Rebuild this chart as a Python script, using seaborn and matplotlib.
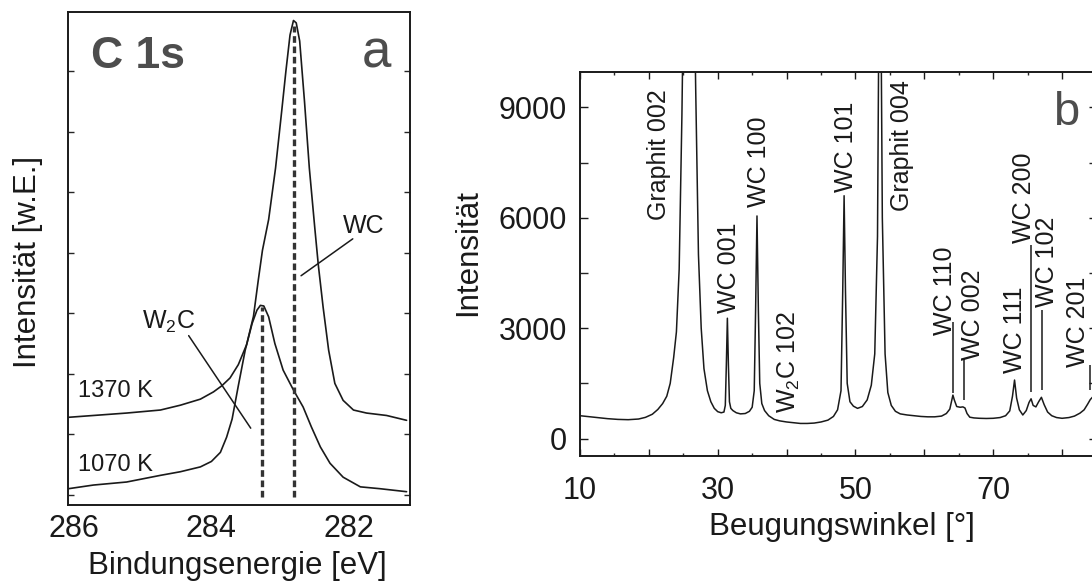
import numpy as np
import pandas as pd
import matplotlib
matplotlib.use("Agg")
import matplotlib.pyplot as plt
from matplotlib.ticker import FixedLocator, FixedFormatter
import seaborn as sns

# ---------------- data: panel a (XPS C 1s) ----------------
e_1370 = [286.07, 285.71, 285.23, 284.74, 284.45, 284.16, 283.97, 283.85, 283.73, 283.61,
          283.49, 283.39, 283.32, 283.26, 283.17, 283.07, 282.98, 282.92, 282.86, 282.81,
          282.77, 282.72, 282.65, 282.58, 282.50, 282.45, 282.38, 282.30, 282.21, 282.09,
          281.94, 281.75, 281.46, 281.17]
i_1370 = [1.28, 1.31, 1.35, 1.40, 1.48, 1.58, 1.70, 1.80, 1.93, 2.15,
          2.48, 2.95, 3.55, 4.04, 4.55, 5.40, 6.35, 7.00, 7.60, 7.84,
          7.80, 7.50, 6.50, 5.40, 4.40, 3.80, 3.10, 2.39, 1.84, 1.56,
          1.40, 1.35, 1.31, 1.23]
e_1070 = [286.07, 285.71, 285.23, 284.74, 284.45, 284.16, 284.00, 283.87, 283.78, 283.70,
          283.61, 283.51, 283.41, 283.34, 283.29, 283.24, 283.17, 283.08, 282.96, 282.81,
          282.67, 282.55, 282.42, 282.28, 282.09, 281.84, 281.56, 281.17]
i_1070 = [0.10, 0.16, 0.21, 0.32, 0.38, 0.46, 0.55, 0.70, 0.95, 1.25,
          1.80, 2.39, 2.83, 3.05, 3.13, 3.12, 2.94, 2.50, 2.06, 1.73,
          1.45, 1.12, 0.79, 0.52, 0.29, 0.13, 0.10, 0.05]
peak_names_a = ["W$_\\mathregular{2}$C", "WC"]
peak_pos_a = [283.27, 282.80]
peak_top_a = [3.10, 7.75]
peak_base_a = -0.03
# leader lines (label end -> peak end)
lead_a_x0 = [284.33, 281.95]
lead_a_y0 = [2.63, 4.23]
lead_a_x1 = [283.43, 282.70]
lead_a_y1 = [1.10, 3.62]
lab_a_x = [285.01, 282.10]
lab_a_y = [2.75, 4.32]
temp_labels = ["1370 K", "1070 K"]
temp_y = [1.61, 0.40]

# ---------------- data: panel b (XRD) ----------------
two_theta = [10, 11, 12.5, 14, 15.5, 17, 18.5, 19.5, 20.5, 21.3, 22, 22.6, 23.1, 23.6, 24.0,
             24.4, 24.8, 25.3, 25.8, 26.3, 26.8, 27.2, 27.6, 28.0, 28.5, 29.0, 29.5, 30.0,
             30.5, 30.9, 31.1, 31.25, 31.4, 31.55, 31.7, 31.9, 32.2, 32.7, 33.3, 34.0, 34.6,
             35.0, 35.3, 35.5, 35.7, 35.9, 36.1, 36.4, 36.8, 37.4, 38.2, 39.0, 40.0, 41.0,
             42.0, 43.0, 44.0, 45.0, 46.0, 46.8, 47.4, 47.9, 48.15, 48.35, 48.55, 48.8, 49.2,
             49.7, 50.3, 51.0, 51.7, 52.3, 52.8, 53.2, 53.55, 53.9, 54.3, 54.7, 55.2, 55.8,
             56.5, 57.5, 58.5, 59.5, 60.5, 61.5, 62.5, 63.2, 63.7, 64.0, 64.15, 64.35, 64.7,
             65.2, 65.6, 65.9, 66.2, 66.6, 67.2, 68.0, 69.0, 70.0, 71.0, 71.8, 72.4, 72.8,
             73.1, 73.4, 73.8, 74.3, 74.8, 75.2, 75.5, 75.8, 76.2, 76.6, 77.0, 77.4, 77.9,
             78.5, 79.2, 80.0, 81.0, 81.8, 82.6, 83.2, 83.7, 84.1, 84.5, 85.0]
counts = [620, 600, 570, 540, 520, 512, 530, 575, 660, 790, 950, 1150, 1500, 2200, 2900,
          4600, 8800, 16000, 22000, 16000, 9500, 5000, 3000, 1900, 1300, 1000, 820, 730,
          700, 720, 900, 2000, 3270, 2000, 1000, 820, 760, 700, 670, 680, 740,
          850, 1300, 3500, 6050, 3500, 1500, 950, 760, 620, 520, 480, 450, 430,
          410, 410, 420, 450, 500, 600, 780, 1300, 4000, 6600, 4000, 1500, 1000,
          880, 820, 870, 1050, 1450, 2300, 5500, 16000, 6000, 2300, 1250, 900, 740,
          670, 640, 620, 600, 590, 590, 610, 680, 800, 1050, 1180, 1050, 870,
          850, 860, 830, 680, 580, 560, 550, 545, 550, 570, 620, 750, 1150,
          1590, 1100, 780, 640, 760, 980, 1080, 900, 860, 1000, 1120, 920, 720,
          620, 570, 550, 570, 610, 690, 780, 930, 1060, 1140, 1100]
refl_names = ["Graphit 002", "WC 001", "WC 100", "W$_\\mathregular{2}$C 102", "WC 101",
              "Graphit 004", "WC 110", "WC 002", "WC 111", "WC 200", "WC 102", "WC 201"]
refl_text_x = [21.5, 31.6, 36.0, 40.4, 48.6, 56.7, 63.0, 67.1, 73.2, 74.5, 77.8, 82.3]
refl_text_y = [5940, 3410, 6300, 685, 6700, 6180, 2814, 2134, 1780, 5307, 3584, 1952]
lead_b_x = [64.1, 65.7, 75.45, 77.05, 84.1]
lead_b_y0 = [1229, 1047, 1273, 1319, 1319]
lead_b_y1 = [3176, 2180, 5261, 3494, 1998]

# ---------------- style ----------------
sns.set_theme(style="white")
plt.rcParams["font.family"] = ["Liberation Sans", "DejaVu Sans"]
plt.rcParams["mathtext.fontset"] = "custom"
plt.rcParams["mathtext.rm"] = "Liberation Sans"
plt.rcParams["mathtext.it"] = "Liberation Sans:italic"
plt.rcParams["mathtext.bf"] = "Liberation Sans:bold"
plt.rcParams["axes.unicode_minus"] = False

INK = "#1a1a1a"
GREY = "#4d4d4d"

fig = plt.figure(figsize=(10.92, 5.82), dpi=100)
W, H = 1092.0, 582.0

def px_axes(l, t, r, b):
    return fig.add_axes([l / W, 1 - b / H, (r - l) / W, (b - t) / H])

# ================= panel a =================
axa = px_axes(68, 12, 410, 505)
df1 = pd.DataFrame({"E": e_1370, "I": i_1370})
df2 = pd.DataFrame({"E": e_1070, "I": i_1070})
sns.lineplot(data=df1, x="E", y="I", ax=axa, color=INK, lw=1.2, estimator=None, sort=False)
sns.lineplot(data=df2, x="E", y="I", ax=axa, color=INK, lw=1.2, estimator=None, sort=False)
axa.vlines(peak_pos_a, peak_base_a, peak_top_a, colors="#333333", lw=2.4,
           linestyles=(0, (2.0, 1.1)))
for x0, y0, x1, y1 in zip(lead_a_x0, lead_a_y0, lead_a_x1, lead_a_y1):
    axa.plot([x0, x1], [y0, y1], color=INK, lw=1.1)
for name, x, y in zip(peak_names_a, lab_a_x, lab_a_y):
    axa.text(x, y, name, fontsize=18, color=INK, ha="left", va="baseline")
for name, y in zip(temp_labels, temp_y):
    axa.text(285.93, y, name, fontsize=17, color=INK, ha="left", va="baseline")
axa.text(285.75, 7.06, "C 1s", fontsize=32, fontweight="bold", color=GREY,
         ha="left", va="baseline")
axa.text(281.40, 7.06, "a", fontsize=38, color=GREY, ha="right", va="baseline")

axa.set_xlim(286.08, 281.12)
axa.set_ylim(-0.17, 7.98)
axa.xaxis.set_major_locator(FixedLocator([286, 284, 282]))
axa.xaxis.set_minor_locator(FixedLocator([285, 283]))
axa.set_yticks(range(0, 8))
axa.set_yticklabels([])
axa.tick_params(axis="x", which="major", direction="in", length=5, width=1.0,
                labelsize=22, pad=6.5, colors=INK)
axa.tick_params(axis="x", which="minor", direction="in", length=2.5, width=1.0)
axa.tick_params(axis="y", which="major", direction="in", length=4.3, width=1.0,
                left=True, right=True)
axa.set_xlabel("Bindungsenergie [eV]", fontsize=22.5, color=INK)
axa.set_ylabel("Intensität [w.E.]", fontsize=22.5, color=INK, va="center")
axa.xaxis.set_label_coords((237.5 - 68) / 342, (505 - 566) / 493)
axa.xaxis.label.set_va("center")
axa.yaxis.set_label_coords((28 - 68) / 342, (505 - 262) / 493)
for s in axa.spines.values():
    s.set_linewidth(1.4)
    s.set_color(INK)

# ================= panel b =================
axb = px_axes(580, 72.3, 1096.5, 456)
dfb = pd.DataFrame({"tt": two_theta, "I": counts})
sns.lineplot(data=dfb, x="tt", y="I", ax=axb, color=INK, lw=1.1, estimator=None, sort=False)
axb.vlines(lead_b_x, lead_b_y0, lead_b_y1, colors=INK, lw=1.1)
for name, x, y in zip(refl_names, refl_text_x, refl_text_y):
    axb.text(x, y, name, rotation=90, fontsize=18, color=INK, ha="center", va="bottom")
axb.text(78.7, 8524, "b", fontsize=34, color=GREY, ha="left", va="baseline")

axb.set_xlim(10, 85)
axb.set_ylim(-475, 9955)
axb.xaxis.set_major_locator(FixedLocator(list(range(10, 90, 10))))
axb.xaxis.set_major_formatter(FixedFormatter(["10", "", "30", "", "50", "", "70", ""]))
axb.xaxis.set_minor_locator(FixedLocator(list(range(15, 90, 10))))
axb.yaxis.set_major_locator(FixedLocator([0, 3000, 6000, 9000]))
axb.yaxis.set_minor_locator(FixedLocator([1500, 4500, 7500]))
axb.tick_params(axis="x", which="major", direction="in", length=5, width=1.0,
                labelsize=22, pad=14.5, top=True, bottom=True, colors=INK)
axb.tick_params(axis="x", which="minor", direction="in", length=2.5, width=1.0,
                top=True, bottom=True)
axb.tick_params(axis="y", which="major", direction="in", length=5.5, width=1.0,
                labelsize=22, pad=9.4, left=True, right=True, colors=INK)
axb.tick_params(axis="y", which="minor", direction="in", length=5.5, width=1.0,
                left=True, right=True)
axb.set_xlabel("Beugungswinkel [°]", fontsize=22.5, color=INK)
axb.set_ylabel("Intensität", fontsize=22.5, color=INK, va="center")
axb.xaxis.set_label_coords((842 - 580) / 516.5, (456 - 527) / 383.7)
axb.xaxis.label.set_va("center")
axb.yaxis.set_label_coords((468 - 580) / 516.5, (456 - 253) / 383.7)
for s in axb.spines.values():
    s.set_linewidth(1.4)
    s.set_color(INK)

fig.savefig("out.png", dpi=100, facecolor="white")
